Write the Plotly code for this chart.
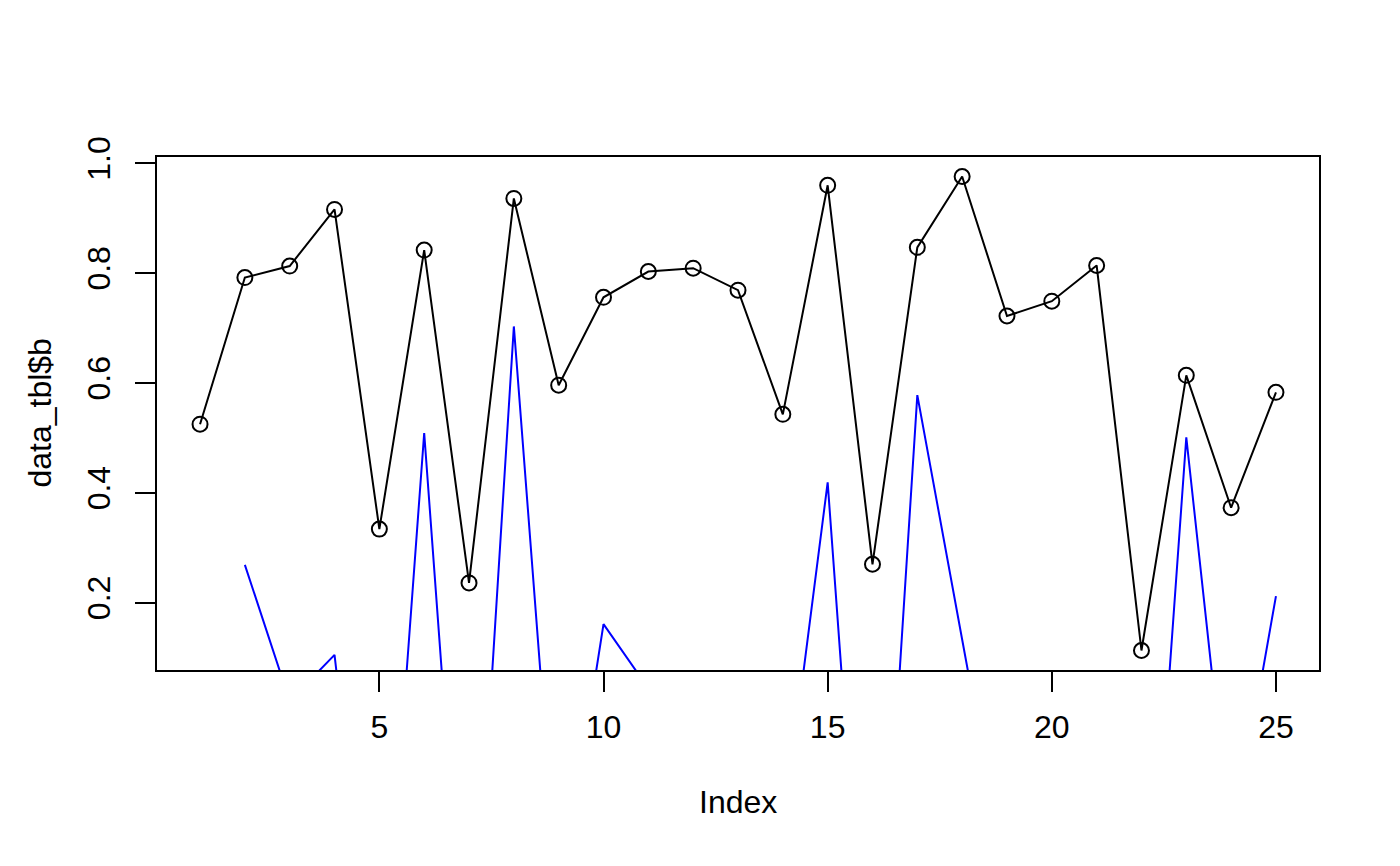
import plotly.graph_objects as go

# ---- data ----
index = list(range(1, 26))
b_values = [0.525, 0.792, 0.813, 0.916, 0.334, 0.842, 0.236, 0.936, 0.596, 0.756,
            0.803, 0.809, 0.769, 0.543, 0.960, 0.270, 0.847, 0.976, 0.722, 0.749,
            0.814, 0.113, 0.614, 0.373, 0.583]
blue_values = [None, 0.269, 0.021, 0.105, -0.60, 0.509, -0.60, 0.703, -0.36, 0.161,
               0.044, -0.30, -0.45, -0.22, 0.419, -0.70, 0.578, 0.133, -0.31, -0.40,
               -0.50, -0.64, 0.501, -0.25, 0.212]
x_ticks = [5, 10, 15, 20, 25]
y_ticks = [0.2, 0.4, 0.6, 0.8, 1.0]
y_ticktext = ["0.2", "0.4", "0.6", "0.8", "1.0"]

FONT = "Liberation Sans, Arial, Helvetica, sans-serif"

fig = go.Figure()
fig.add_trace(go.Scatter(
    x=index, y=blue_values, mode="lines",
    line=dict(color="#0000FF", width=2),
    connectgaps=False, showlegend=False, hoverinfo="skip"))
fig.add_trace(go.Scatter(
    x=index, y=b_values, mode="lines+markers",
    line=dict(color="black", width=2),
    marker=dict(symbol="circle-open", size=15, color="black", line=dict(width=2)),
    showlegend=False, cliponaxis=False))

axis_common = dict(
    showgrid=False, zeroline=False, showline=True, linecolor="black", linewidth=2,
    mirror=True, ticks="outside", ticklen=20, tickwidth=2, tickcolor="black",
    tickfont=dict(family=FONT, size=32, color="black"))

fig.update_layout(
    width=1400, height=866,
    margin=dict(l=157, r=81, t=157, b=196),
    paper_bgcolor="white", plot_bgcolor="white",
    font=dict(family=FONT, size=32, color="black"),
    xaxis=dict(range=[0.04, 25.96], tickvals=x_ticks, ticktext=[str(v) for v in x_ticks],
               ticklabelstandoff=8, **axis_common),
    yaxis=dict(range=[0.0775, 1.0115], tickvals=y_ticks, ticktext=y_ticktext,
               tickangle=-90, ticklabelstandoff=12, **axis_common),
    annotations=[
        dict(text="Index", xref="paper", yref="paper", x=0.5, y=-0.258,
             xanchor="center", yanchor="middle", showarrow=False,
             font=dict(family=FONT, size=32, color="black")),
        dict(text="data_tbl$b", xref="paper", yref="paper", x=-0.1015, y=0.5,
             xanchor="center", yanchor="middle", showarrow=False, textangle=-90,
             font=dict(family=FONT, size=32, color="black")),
    ],
)

fig.write_html("out.html")
